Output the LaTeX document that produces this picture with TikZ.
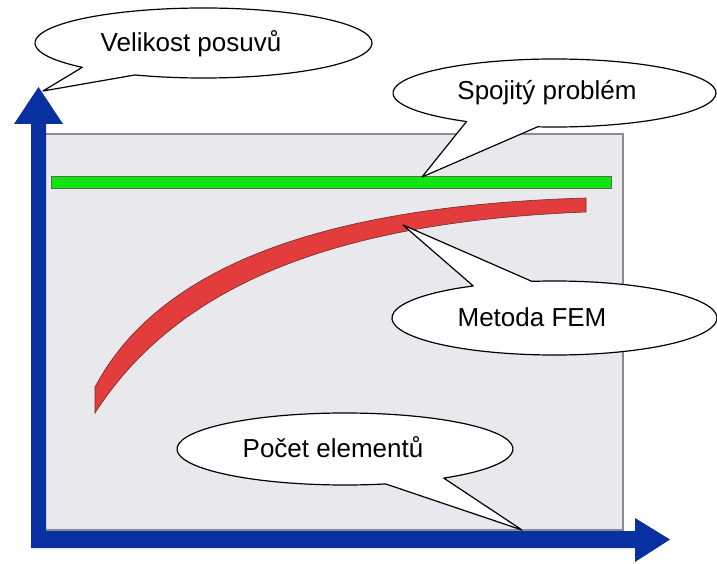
\documentclass[tikz,border=0pt]{standalone}
\usepackage{fontspec}
\setmainfont{Liberation Sans}
\definecolor{axisblue}{RGB}{8,48,160}
\definecolor{panelgray}{RGB}{232,232,237}
\definecolor{panelborder}{RGB}{140,140,140}
\definecolor{barGreen}{RGB}{18,228,18}
\definecolor{barGreenEdge}{RGB}{70,120,70}
\definecolor{curveRed}{RGB}{226,60,60}
\definecolor{curveRedEdge}{RGB}{110,45,45}
\tikzset{
  panel/.style={fill=panelgray, draw=panelborder, line width=1.4pt},
  axisshape/.style={fill=axisblue, draw=none},
  greenbar/.style={fill=barGreen, draw=barGreenEdge, line width=0.8pt},
  redcurve/.style={fill=curveRed, draw=curveRedEdge, line width=0.6pt},
  bubble/.style={fill=white, draw=black, line width=1.2pt, line join=round},
  bubbletext/.style={anchor=base, inner sep=0pt, font=\fontsize{26}{30}\selectfont}
}
\begin{document}
\begin{tikzpicture}[x=1pt,y=1pt]
\useasboundingbox (0,0) rectangle (717,563);
% panel
\draw[panel] (40,33) rectangle (623,429);
% green bar
\draw[greenbar] (51,375) rectangle (611,387);
% red curve
\draw[redcurve] (95,150) -- (95,176) .. controls (165,308) and (350,358) .. (586,365)
  -- (586,351) .. controls (360,342) and (185,290) .. (95,150) -- cycle;
% axes
\fill[axisshape] (31,15) -- (635,15) -- (635,1) -- (670,23.5) -- (635,45) -- (635,32)
  -- (46,32) -- (46,439) -- (63,439) -- (38.5,476) -- (14,439) -- (31,439) -- cycle;
% callout tips
\coordinate (tipV) at (43,472);
\coordinate (tipS) at (422,386);
\coordinate (tipM) at (403,338);
\coordinate (tipP) at (522,33);
% callout bodies
\coordinate (cV) at (203.5,520);
\coordinate (cS) at (554.5,470);
\coordinate (cM) at (554.5,245);
\coordinate (cP) at (345,114);
\draw[bubble] (cV) ++(246:168.5 and 35) arc[start angle=246, end angle=584, x radius=168.5, y radius=35] -- (tipV) -- cycle;
\draw[bubble] (cS) ++(264:161.5 and 34) arc[start angle=264, end angle=597, x radius=161.5, y radius=34] -- (tipS) -- cycle;
\draw[bubble] (cM) ++(120:162.5 and 37) arc[start angle=120, end angle=458, x radius=162.5, y radius=37] -- (tipM) -- cycle;
\draw[bubble] (cP) ++(306:168 and 36) arc[start angle=306, end angle=644, x radius=168, y radius=36] -- (tipP) -- cycle;
% texts
\node[bubbletext] (tV) at (191,511) {Velikost posuvů};
\node[bubbletext] (tS) at (547,463) {Spojitý problém};
\node[bubbletext] (tM) at (532,237) {Metoda FEM};
\node[bubbletext] (tP) at (333,106) {Počet elementů};
\end{tikzpicture}
\end{document}
